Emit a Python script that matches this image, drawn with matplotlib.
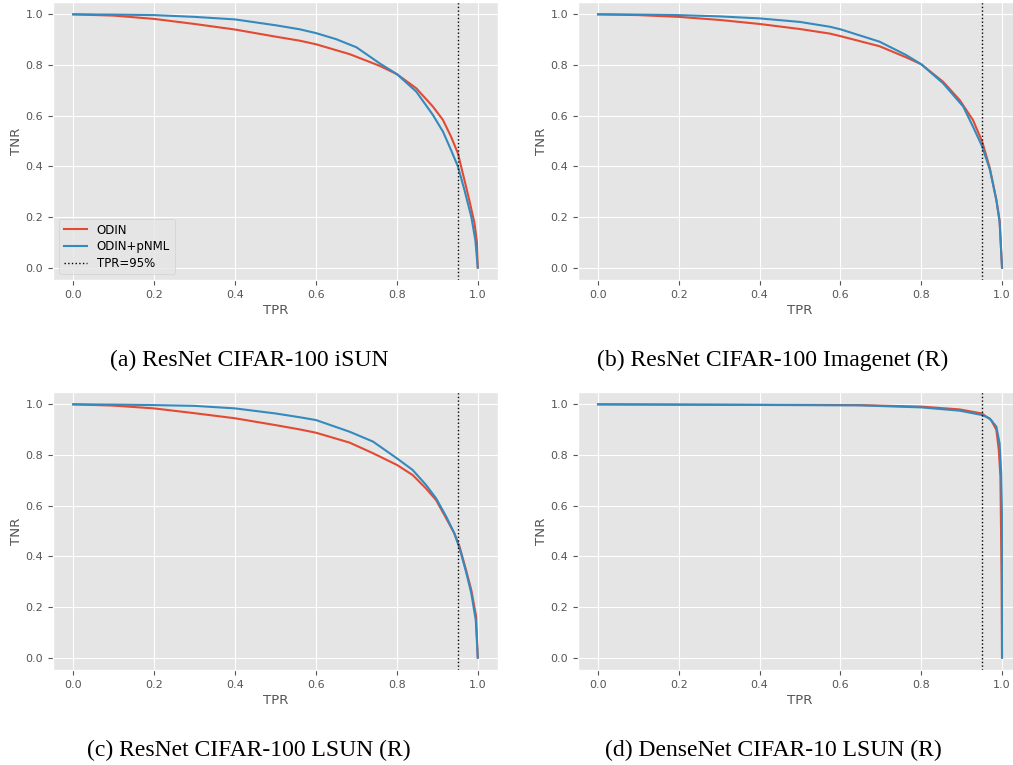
import matplotlib
matplotlib.use("Agg")
import matplotlib.pyplot as plt

plt.style.use("ggplot")
plt.rcParams["font.size"] = 8

# Panel (a) ResNet CIFAR-100 iSUN
tpr_a_odin = [0.0, 0.1, 0.2, 0.3, 0.4, 0.5, 0.56, 0.6, 0.683, 0.757, 0.8, 0.848, 0.889, 0.914, 0.934,
              0.951, 0.967, 0.979, 0.992, 0.998, 1.0]
tnr_a_odin = [1.0, 0.995, 0.982, 0.962, 0.94, 0.912, 0.896, 0.882, 0.843, 0.797, 0.764, 0.708, 0.636, 0.583, 0.517,
              0.451, 0.346, 0.267, 0.175, 0.1, 0.0]
tpr_a_pnml = [0.0, 0.1, 0.2, 0.3, 0.4, 0.5, 0.56, 0.6, 0.65, 0.7, 0.757, 0.8, 0.848, 0.889, 0.914, 0.934,
              0.951, 0.967, 0.984, 0.994, 1.0]
tnr_a_pnml = [1.0, 0.999, 0.997, 0.99, 0.98, 0.957, 0.941, 0.926, 0.902, 0.87, 0.807, 0.764, 0.695, 0.603, 0.537,
              0.464, 0.399, 0.307, 0.201, 0.109, 0.0]

# Panel (b) ResNet CIFAR-100 Imagenet (R)
tpr_b_odin = [0.0, 0.1, 0.2, 0.3, 0.4, 0.5, 0.574, 0.6, 0.697, 0.763, 0.8, 0.854, 0.895, 0.928, 0.951,
              0.97, 0.986, 0.994, 1.0]
tnr_b_odin = [1.0, 0.997, 0.99, 0.978, 0.962, 0.942, 0.924, 0.914, 0.874, 0.83, 0.803, 0.734, 0.662, 0.583, 0.497,
              0.392, 0.267, 0.188, 0.0]
tpr_b_pnml = [0.0, 0.1, 0.2, 0.3, 0.4, 0.5, 0.574, 0.6, 0.697, 0.763, 0.8, 0.854, 0.904, 0.928, 0.951,
              0.97, 0.986, 0.994, 1.0]
tnr_b_pnml = [1.0, 0.999, 0.997, 0.992, 0.984, 0.97, 0.951, 0.941, 0.892, 0.839, 0.803, 0.728, 0.636, 0.557, 0.478,
              0.386, 0.267, 0.18, 0.0]

# Panel (c) ResNet CIFAR-100 LSUN (R)
tpr_c_odin = [0.0, 0.1, 0.2, 0.3, 0.4, 0.5, 0.56, 0.6, 0.683, 0.741, 0.8, 0.839, 0.872, 0.897, 0.922,
              0.942, 0.955, 0.971, 0.984, 0.996, 1.0]
tnr_c_odin = [1.0, 0.995, 0.984, 0.965, 0.945, 0.918, 0.901, 0.888, 0.849, 0.807, 0.761, 0.721, 0.668, 0.622, 0.55,
              0.491, 0.438, 0.346, 0.267, 0.162, 0.0]
tpr_c_pnml = [0.0, 0.1, 0.2, 0.3, 0.4, 0.5, 0.56, 0.6, 0.683, 0.741, 0.8, 0.839, 0.872, 0.897, 0.922,
              0.942, 0.955, 0.971, 0.984, 0.995, 1.0]
tnr_c_pnml = [1.0, 0.999, 0.997, 0.994, 0.984, 0.964, 0.949, 0.938, 0.892, 0.853, 0.787, 0.741, 0.682, 0.629, 0.557,
              0.491, 0.432, 0.339, 0.254, 0.149, 0.0]

# Panel (d) DenseNet CIFAR-10 LSUN (R)
tpr_d_odin = [0.0, 0.647, 0.8, 0.895, 0.95, 0.973, 0.986, 0.992, 0.996, 0.997, 0.999, 1.0]
tnr_d_odin = [1.0, 0.997, 0.991, 0.98, 0.964, 0.938, 0.899, 0.82, 0.714, 0.583, 0.3, 0.0]
tpr_d_pnml = [0.0, 0.647, 0.8, 0.895, 0.95, 0.969, 0.986, 0.994, 0.998, 0.9997, 1.0]
tnr_d_pnml = [1.0, 0.996, 0.988, 0.975, 0.958, 0.945, 0.912, 0.846, 0.728, 0.58, 0.0]

captions = ["(a) ResNet CIFAR-100 iSUN", "(b) ResNet CIFAR-100 Imagenet (R)",
            "(c) ResNet CIFAR-100 LSUN (R)", "(d) DenseNet CIFAR-10 LSUN (R)"]
tpr_line = 0.95

panels = [
    (tpr_a_odin, tnr_a_odin, tpr_a_pnml, tnr_a_pnml),
    (tpr_b_odin, tnr_b_odin, tpr_b_pnml, tnr_b_pnml),
    (tpr_c_odin, tnr_c_odin, tpr_c_pnml, tnr_c_pnml),
    (tpr_d_odin, tnr_d_odin, tpr_d_pnml, tnr_d_pnml),
]

fig = plt.figure(figsize=(10.13, 7.65), dpi=100)

# axes rectangles (left, bottom, width, height) in figure fraction
rects = [
    (0.0523, 0.6336, 0.4393, 0.3642),
    (0.5704, 0.6336, 0.4387, 0.3642),
    (0.0523, 0.1238, 0.4393, 0.3642),
    (0.5704, 0.1238, 0.4387, 0.3642),
]
cap_pos = [(0.246, 0.529), (0.763, 0.529), (0.246, 0.0196), (0.763, 0.0196)]

for i, (x1, y1, x2, y2) in enumerate(panels):
    ax = fig.add_axes(rects[i])
    ax.plot(x1, y1, color="#E24A33", lw=1.5, label="ODIN")
    ax.plot(x2, y2, color="#348ABD", lw=1.5, label="ODIN+pNML")
    ax.axvline(tpr_line, color="k", ls=":", lw=1.0, label="TPR=95%")
    ax.set_xlim(-0.05, 1.05)
    ax.set_ylim(-0.05, 1.05)
    ax.set_xticks([0.0, 0.2, 0.4, 0.6, 0.8, 1.0])
    ax.set_yticks([0.0, 0.2, 0.4, 0.6, 0.8, 1.0])
    ax.set_xlabel("TPR", labelpad=3)
    ax.set_ylabel("TNR", labelpad=2)
    if i == 0:
        ax.legend(loc="lower left", fontsize=8.5, labelspacing=0.3)
    fig.text(cap_pos[i][0], cap_pos[i][1], captions[i], ha="center", va="center",
             family="Liberation Serif", fontsize=17, color="black")

fig.savefig("out.png", dpi=100)
